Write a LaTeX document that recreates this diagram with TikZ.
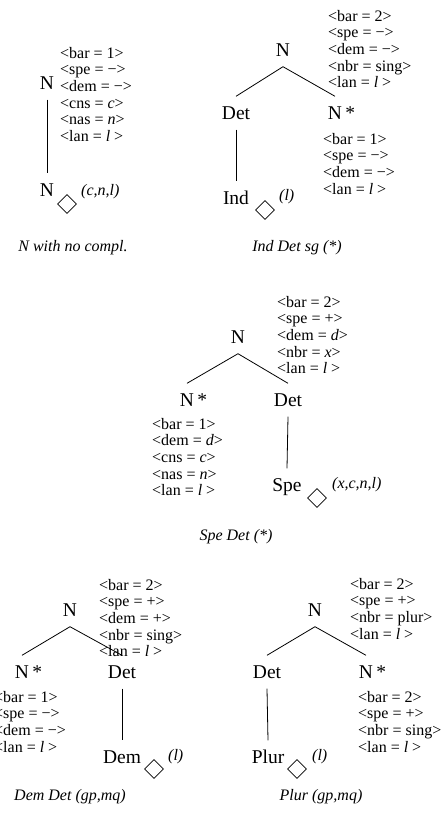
\documentclass[tikz,border=0pt]{standalone}
\usepackage{fontspec}
\setmainfont{Liberation Serif}
\usetikzlibrary{shapes.geometric}

\begin{document}
\begin{tikzpicture}[x=1pt, y=-1pt,
  cat/.style={font=\fontsize{19.5}{20}\selectfont, inner xsep=0pt, inner ysep=10pt,
              text height=13pt, text depth=0pt},
  feats/.style={font=\fontsize{16}{16.6}\selectfont, align=left,
                anchor=north west, inner sep=0pt},
  lexbox/.style={draw, diamond, line width=0.8pt, minimum width=19pt,
                 minimum height=19pt, inner sep=0pt},
  args/.style={font=\fontsize{16}{18}\selectfont\itshape, anchor=west, inner sep=0pt},
  title/.style={font=\fontsize{16}{18}\selectfont\itshape},
  br/.style={line width=0.8pt}
]
  \useasboundingbox (0,0) rectangle (441,814);

  % N with no complement
  \node[cat] (nA) at (47,83) {N};
  \node[feats] (fA) at (60,47) {<bar = 1>\\<spe = −>\\<dem = −>\\<cns = \textit{c}>\\<nas = \textit{n}>\\<lan = \textit{l} >};
  \node[cat] (nAl) at (47,190) {N};
  \draw[br] (nA.south) -- (nAl.north);
  \node[lexbox] (dA) at (67,204) {};
  \node[args] (aA) at (81,192) {(c,n,l)};
  \node[title] (tA) at (73,248) {N with no compl.};

  % Ind Det sg
  \node[cat] (nB) at (283,50) {N};
  \node[feats] (fB) at (328,10) {<bar = 2>\\<spe = −>\\<dem = −>\\<nbr = sing>\\<lan = \textit{l} >};
  \node[cat] (detB) at (236,113) {Det};
  \node[cat] (nsB) at (335,113) {N\rlap{\,*}};
  \draw[br] (nB.south) -- (detB.north);
  \draw[br] (nB.south) -- (nsB.north);
  \node[feats] (fBl) at (323,133) {<bar = 1>\\<spe = −>\\<dem = −>\\<lan = \textit{l} >};
  \node[cat] (indB) at (236,198) {Ind};
  \draw[br] (detB.south) -- (indB.north);
  \node[lexbox] (dB) at (265,210) {};
  \node[args] (aB) at (279,197) {(l)};
  \node[title] (tB) at (297,248) {Ind Det sg (*)};

  % Spe Det
  \node[cat] (nC) at (238,337) {N};
  \node[feats] (fC) at (277,296) {<bar = 2>\\<spe = +>\\<dem = \textit{d}>\\<nbr = \textit{x}>\\<lan = \textit{l} >};
  \node[cat] (nsC) at (187,400) {N\rlap{\,*}};
  \node[cat] (detC) at (288,400) {Det};
  \draw[br] (nC.south) -- (nsC.north);
  \draw[br] (nC.south) -- (detC.north);
  \node[feats] (fCl) at (152,418) {<bar = 1>\\<dem = \textit{d}>\\<cns = \textit{c}>\\<nas = \textit{n}>\\<lan = \textit{l} >};
  \node[cat] (speC) at (287,485) {Spe};
  \draw[br] (detC.south) -- (speC.north);
  \node[lexbox] (dC) at (317,498) {};
  \node[args] (aC) at (332,485) {(x,c,n,l)};
  \node[title] (tC) at (236,537) {Spe Det (*)};

  % Dem Det
  \node[cat] (nD) at (70,610) {N};
  \node[feats] (fD) at (99,579) {<bar = 2>\\<spe = +>\\<dem = +>\\<nbr = sing>\\<lan = \textit{l} >};
  \node[cat] (nsD) at (22,672) {N\rlap{\,*}};
  \node[cat] (detD) at (122,672) {Det};
  \draw[br] (nD.south) -- (nsD.north);
  \draw[br] (nD.south) -- (detD.north);
  \node[feats] (fDl) at (-6,691) {<bar = 1>\\<spe = −>\\<dem = −>\\<lan = \textit{l} >};
  \node[cat] (demD) at (122,757) {Dem};
  \draw[br] (detD.south) -- (demD.north);
  \node[lexbox] (dD) at (154,769) {};
  \node[args] (aD) at (168,757) {(l)};
  \node[title] (tD) at (70,797) {Dem Det (gp,mq)};

  % Plur
  \node[cat] (nE) at (315,610) {N};
  \node[feats] (fE) at (350,578) {<bar = 2>\\<spe = +>\\<nbr = plur>\\<lan = \textit{l} >};
  \node[cat] (detE) at (267,672) {Det};
  \node[cat] (nsE) at (366,672) {N\rlap{\,*}};
  \draw[br] (nE.south) -- (detE.north);
  \draw[br] (nE.south) -- (nsE.north);
  \node[feats] (fEl) at (358,691) {<bar = 2>\\<spe = +>\\<nbr = sing>\\<lan = \textit{l} >};
  \node[cat] (plE) at (268,757) {Plur};
  \draw[br] (detE.south) -- (plE.north);
  \node[lexbox] (dE) at (297,769) {};
  \node[args] (aE) at (312,757) {(l)};
  \node[title] (tE) at (321,797) {Plur (gp,mq)};
\end{tikzpicture}
\end{document}
